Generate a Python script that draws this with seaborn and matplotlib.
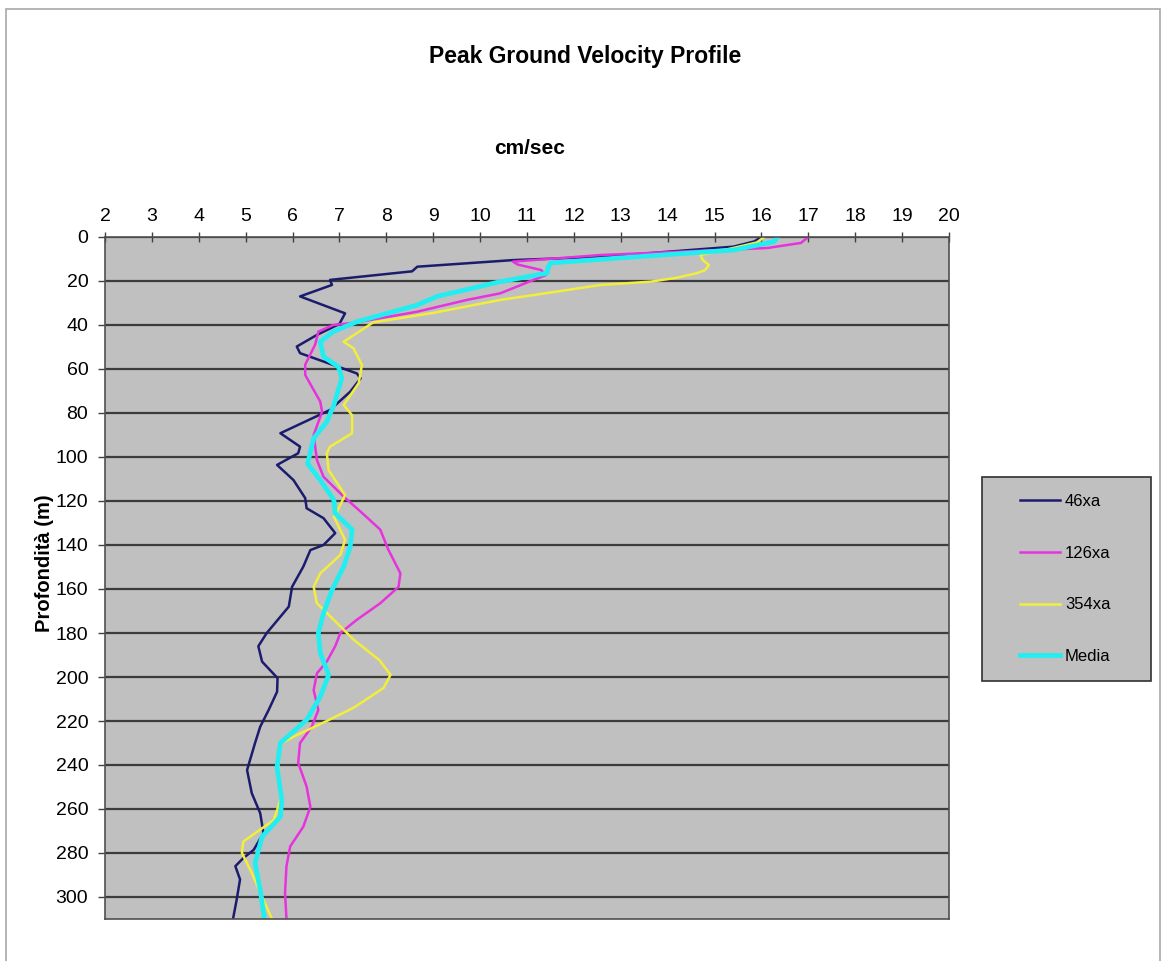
import pandas as pd
import matplotlib
matplotlib.use('Agg')
import matplotlib.pyplot as plt
from matplotlib.patches import Rectangle
import seaborn as sns

plt.rcParams['font.family'] = ['Liberation Sans', 'DejaVu Sans']

# depth (m) and peak velocity (cm/sec)
depth_46 = [0, 2, 4.4, 9, 10.5, 13.5, 15.6, 19.5, 21.8, 27, 34.7, 39.5, 44.5, 49.8, 52.8, 58.2, 62, 64.3,
            70.3, 78.6, 89.2, 95.3, 98.3, 103.6, 110.5, 118.7, 123.3, 127.8, 134.6, 140, 142.3, 149.8,
            159, 168, 180, 186, 193, 200.5, 206.7, 215, 222.6, 230, 242.3, 252.8, 261.9, 271, 278.6,
            282.3, 286, 292, 301, 310]
vel_46 = [16.0, 15.85, 15.4, 12.6, 10.7, 8.66, 8.55, 6.8, 6.84, 6.16, 7.12, 7.0, 6.52, 6.09, 6.16, 6.87, 7.37,
          7.45, 7.23, 6.8, 5.74, 6.16, 6.12, 5.67, 6.02, 6.27, 6.3, 6.66, 6.91, 6.66, 6.38, 6.23,
          5.99, 5.92, 5.45, 5.27, 5.35, 5.68, 5.67, 5.49, 5.31, 5.2, 5.03, 5.13, 5.31, 5.38, 5.17,
          4.95, 4.78, 4.88, 4.81, 4.73]

depth_126 = [0, 2.7, 5, 8.2, 11.2, 12.5, 15, 17.3, 19.5, 25.6, 28.6, 34, 39, 40, 43, 49, 58, 62.7, 74.8,
             79.4, 90, 101.4, 109, 118, 124.8, 133, 142, 152.9, 159, 166.5, 174, 180, 186, 193, 198.3,
             206, 215, 222.6, 230, 239, 249.8, 259, 268, 277, 286, 298, 310]
vel_126 = [17.0, 16.84, 16.13, 12.57, 10.7, 10.8, 11.3, 11.4, 11.14, 10.43, 9.72, 8.65, 7.3, 6.87, 6.55,
           6.48, 6.27, 6.27, 6.59, 6.63, 6.45, 6.52, 6.66, 7.09, 7.45, 7.87, 8.04, 8.3, 8.26, 7.87,
           7.37, 7.02, 6.91, 6.73, 6.52, 6.45, 6.55, 6.41, 6.16, 6.12, 6.3, 6.38, 6.23, 5.95, 5.87,
           5.84, 5.87]

depth_354 = [0, 2.5, 5, 8.2, 10.5, 12.7, 15, 16.4, 18.5, 20.3, 21.8, 26.4, 28.6, 34.5, 38.8, 47.6, 50.6,
             58.2, 66.4, 76.4, 81, 89.2, 95.3, 98.3, 106, 117.3, 124.8, 127, 137.7, 144.5, 152.9, 159,
             166.5, 174, 183, 192.3, 199, 205, 214, 220, 226.4, 230, 237.7, 256, 265, 274.8, 280, 289,
             298, 310]
vel_354 = [16.06, 15.9, 15.4, 14.7, 14.75, 14.88, 14.8, 14.63, 14.2, 13.64, 12.57, 11.14, 10.43, 9.0,
           7.72, 7.09, 7.3, 7.48, 7.41, 7.09, 7.27, 7.27, 6.8, 6.73, 6.77, 7.12, 6.95, 6.88, 7.12,
           7.02, 6.59, 6.45, 6.52, 6.88, 7.3, 7.85, 8.09, 7.94, 7.3, 6.73, 6.09, 5.77, 5.69, 5.74,
           5.6, 4.95, 4.92, 5.13, 5.31, 5.56]

depth_media = [0, 2.1, 5.9, 9.6, 11.8, 14, 16.4, 20.3, 27, 31, 38.5, 43, 47.6, 54.4, 59, 64.2, 76.4, 84,
               91.5, 103, 110.5, 119.5, 125.6, 133, 140.8, 149.8, 160.5, 171, 180, 189, 199, 209,
               219.5, 230, 240.8, 256, 263.5, 272.6, 284.6, 296.8, 310]
vel_media = [16.34, 16.27, 15.41, 12.93, 11.5, 11.45, 11.43, 10.43, 9.08, 8.65, 7.37, 6.87, 6.59, 6.66,
             6.98, 7.05, 6.88, 6.73, 6.45, 6.32, 6.59, 6.88, 6.91, 7.27, 7.23, 7.09, 6.84, 6.66, 6.55,
             6.59, 6.77, 6.59, 6.3, 5.74, 5.67, 5.77, 5.74, 5.35, 5.2, 5.31, 5.4]

series_names = ['46xa', '126xa', '354xa', 'Media']
series_colors = ['#1c1c6e', '#e633dd', '#f2ee3c', '#22eef2']
series_widths = [1.8, 1.8, 1.8, 3.4]

x_ticks = list(range(2, 21))
y_ticks = list(range(0, 301, 20))

frames = []
for name, d, v in zip(series_names, [depth_46, depth_126, depth_354, depth_media],
                      [vel_46, vel_126, vel_354, vel_media]):
    frames.append(pd.DataFrame({'depth': d, 'vel': v, 'serie': name}))
data = pd.concat(frames, ignore_index=True)

W, H = 1163, 961
fig = plt.figure(figsize=(W / 100, H / 100), dpi=100)
ax = fig.add_axes([105 / W, 1 - 919 / H, (949 - 105) / W, (919 - 237) / H])
ax.set_facecolor('#c0c0c0')

for name, color, lw in zip(series_names, series_colors, series_widths):
    sub = data[data['serie'] == name]
    sns.lineplot(data=sub, x='vel', y='depth', sort=False, estimator=None, color=color,
                 linewidth=lw, label=name, ax=ax)

ax.set_xlim(2, 20)
ax.set_ylim(310, 0)
ax.set_xticks(x_ticks)
ax.set_yticks(y_ticks)
ax.xaxis.tick_top()
ax.tick_params(axis='x', direction='inout', length=7, width=1, color='#404040', pad=5, labelsize=14)
ax.tick_params(axis='y', direction='out', length=5, width=1, color='#404040', pad=7, labelsize=14)
ax.yaxis.grid(True, color='#3c3c3c', linewidth=1.6)
ax.xaxis.grid(False)
ax.set_axisbelow(True)
for sp in ax.spines.values():
    sp.set_color('#505050')
    sp.set_linewidth(1.2)
ax.set_xlabel('')
ax.set_ylabel('')
ax.get_legend().remove()

fig.text(585 / W, 1 - 57 / H, 'Peak Ground Velocity Profile', ha='center', va='center',
         fontsize=16.5, fontweight='bold')
fig.text(530 / W, 1 - 149 / H, 'cm/sec', ha='center', va='center', fontsize=15, fontweight='bold')
fig.text(45 / W, 1 - 563 / H, 'Profondità (m)', ha='center', va='center', rotation=90,
         fontsize=14.5, fontweight='bold')

# outer chart border and legend box
fig.patches.append(Rectangle((6 / W, -0.02), (1160 - 6) / W, 1.02 - 9 / H, transform=fig.transFigure,
                             facecolor='none', edgecolor='#a8a8a8', linewidth=1.2, zorder=0))
fig.patches.append(Rectangle((982 / W, 1 - 681 / H), (1151 - 982) / W, (681 - 477) / H,
                             transform=fig.transFigure, facecolor='#c0c0c0', edgecolor='#303030',
                             linewidth=1.2, zorder=1))
handles, labels = ax.get_legend_handles_labels()
fig.legend(handles, labels, loc='upper left', bbox_to_anchor=(1020 / W, 1 - 494 / H), frameon=False,
           borderpad=0, borderaxespad=0, fontsize=12, handlelength=2.4, handletextpad=0.3,
           labelspacing=2.2)

fig.savefig('out.png', dpi=100, facecolor='white')
